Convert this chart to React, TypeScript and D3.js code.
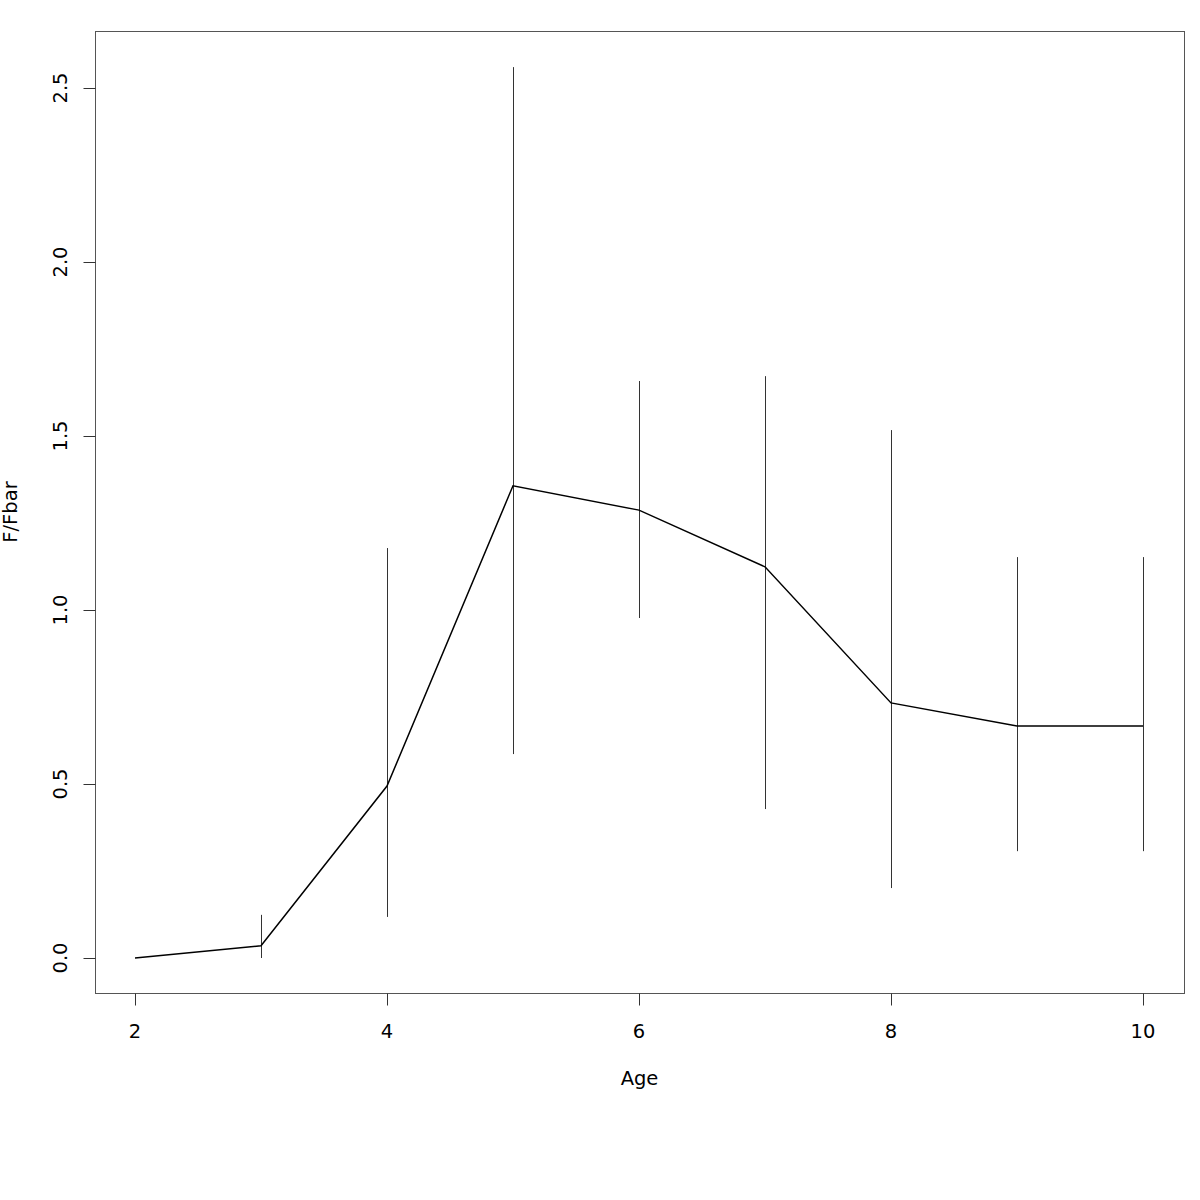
import React from "react";
import * as d3 from "d3";

const ages = [2, 3, 4, 5, 6, 7, 8, 9, 10];
const ratio = [0.0, 0.035, 0.494, 1.357, 1.287, 1.124, 0.733, 0.667, 0.667];
const lower = [0.0, 0.0, 0.118, 0.586, 0.977, 0.428, 0.201, 0.307, 0.307];
const upper = [0.0, 0.124, 1.178, 2.56, 1.658, 1.672, 1.517, 1.152, 1.152];
const xTicks = [2, 4, 6, 8, 10];
const yTicks = [0, 0.5, 1.0, 1.5, 2.0, 2.5];

export default function App() {
  const left = 95.5, right = 1184.5, top = 31.5, bottom = 993.5;
  const x = d3.scaleLinear().domain([2, 10]).range([135, 1143]);
  const y = d3.scaleLinear().domain([0, 2.5]).range([958, 88]);
  const line = d3.line<number>().x((_, i) => x(ages[i])).y((d) => y(d));
  const font = "DejaVu Sans, sans-serif";
  const fs = 19.5;
  return (
    <svg width={1200} height={1200} style={{ position: "absolute", left: 0, top: 0, background: "#fff" }}>
      <rect x={left} y={top} width={right - left} height={bottom - top} fill="none" stroke="#555" strokeWidth={1} />
      {ages.map((a, i) =>
        upper[i] > lower[i] ? (
          <line key={a} x1={Math.round(x(a)) + 0.5} x2={Math.round(x(a)) + 0.5} y1={y(lower[i])} y2={y(upper[i])} stroke="#333" strokeWidth={1} />
        ) : null
      )}
      <path d={line(ratio) || ""} fill="none" stroke="#000" strokeWidth={1.5} />
      {xTicks.map((t) => (
        <g key={t}>
          <line x1={Math.round(x(t)) + 0.5} x2={Math.round(x(t)) + 0.5} y1={bottom} y2={bottom + 12} stroke="#333" />
          <text x={x(t)} y={1038} textAnchor="middle" fontFamily={font} fontSize={fs}>{t}</text>
        </g>
      ))}
      {yTicks.map((t) => (
        <g key={t}>
          <line x1={left} x2={left - 12} y1={Math.round(y(t)) + 0.5} y2={Math.round(y(t)) + 0.5} stroke="#333" />
          <text transform={`translate(67,${y(t)}) rotate(-90)`} textAnchor="middle" fontFamily={font} fontSize={fs}>{t.toFixed(1)}</text>
        </g>
      ))}
      <text x={639.5} y={1085} textAnchor="middle" fontFamily={font} fontSize={fs}>Age</text>
      <text transform={`translate(17,512) rotate(-90)`} textAnchor="middle" fontFamily={font} fontSize={fs}>F/Fbar</text>
    </svg>
  );
}
